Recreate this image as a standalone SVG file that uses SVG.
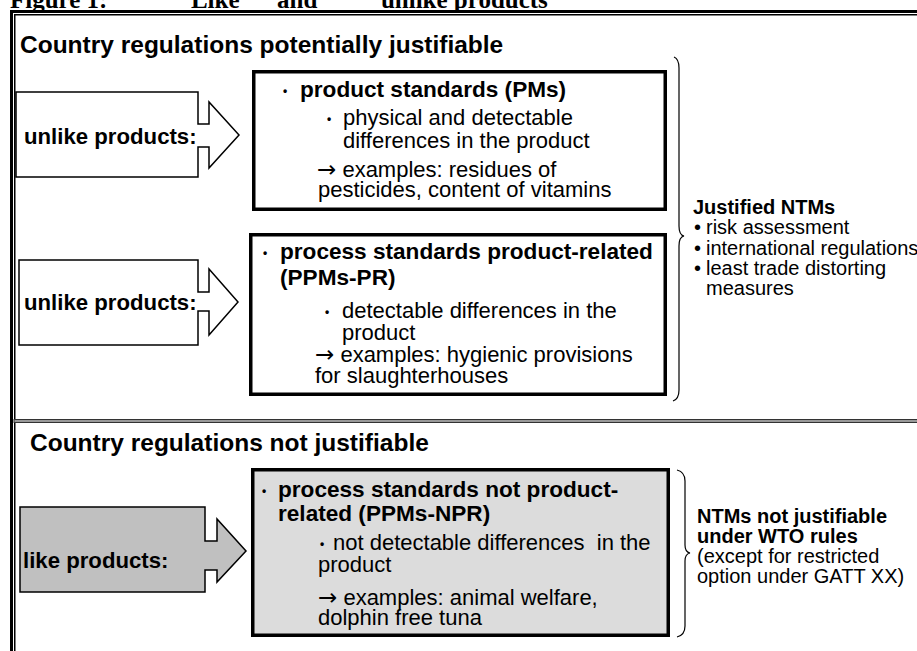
<svg xmlns="http://www.w3.org/2000/svg" width="917" height="651" viewBox="0 0 917 651">
<style>
text{font-family:"Liberation Sans",Arial,sans-serif;fill:#000}
.ti{font-family:"Liberation Serif","Times New Roman",serif;font-weight:bold;font-size:25px}
.h{font-weight:bold;font-size:24.5px}
.l{font-weight:bold;font-size:22.2px}
.b{font-weight:bold;font-size:22.6px}
.r{font-size:22px}
.sb{font-weight:bold;font-size:20px}
.sr{font-size:20px}
.bu{font-size:12px;font-weight:bold}
.ar{font-family:"DejaVu Sans",sans-serif;font-size:23px}
.box{fill:#fff;stroke:#000;stroke-width:3.5}
.arr{fill:#fff;stroke:#000;stroke-width:1.5;stroke-linejoin:miter}
.brace{fill:none;stroke:#000;stroke-width:1.2}
</style>
<rect width="917" height="651" fill="#fff"/>
<text class="ti" y="8"><tspan x="10">Figure 1:</tspan><tspan x="177">"Like"</tspan><tspan x="277">and</tspan><tspan x="367">"unlike products"</tspan></text>
<g id="frame">
<rect x="11.5" y="11.5" width="920" height="660" fill="none" stroke="#000" stroke-width="3"/>
<rect x="14.75" y="14.75" width="915" height="655" fill="none" stroke="#000" stroke-width="1.5"/>
<rect x="14" y="419.5" width="910" height="3" fill="#999" stroke="#333" stroke-width="1"/>
</g>
<text class="h" x="20" y="53">Country regulations potentially justifiable</text>
<text class="h" x="30" y="451">Country regulations not justifiable</text>
<g id="arrow1">
<path class="arr" d="M16,92 H198 V124 H209 V102 L239,135 L209,168 V147 H198 V177 H16 Z"/>
<text class="l" x="24" y="144">unlike products:</text>
</g>
<g id="arrow2">
<path class="arr" d="M19,260 H198 V292 H209 V269 L238,302 L209,335 V311 H198 V345 H19 Z"/>
<text class="l" x="24" y="310">unlike products:</text>
</g>
<g id="arrow3">
<path class="arr" style="fill:#c0c0c0" d="M20,507 H205 V541 H217 V519 L246,551 L217,582 V570 H205 V592 H20 Z"/>
<text class="l" x="23" y="568">like products:</text>
</g>
<g id="box1">
<rect class="box" x="253.75" y="71.75" width="411.5" height="137.5"/>
<text class="bu" x="283" y="95">•</text>
<text class="b" x="300" y="97">product standards (PMs)</text>
<text class="bu" x="327" y="123">•</text>
<text class="r" x="343" y="125">physical and detectable</text>
<text class="r" x="343" y="148">differences in the product</text>
<text class="r" x="317" y="177"><tspan class="ar">→</tspan> examples: residues of</text>
<text class="r" x="318" y="197">pesticides, content of vitamins</text>
</g>
<g id="box2">
<rect class="box" x="250.75" y="234.75" width="414.5" height="159.5"/>
<text class="bu" x="263" y="257">•</text>
<text class="b" x="280" y="259">process standards product-related</text>
<text class="b" x="280" y="285">(PPMs-PR)</text>
<text class="bu" x="325" y="316">•</text>
<text class="r" x="342" y="318">detectable differences in the</text>
<text class="r" x="342" y="340">product</text>
<text class="r" x="315" y="362"><tspan class="ar">→</tspan> examples: hygienic provisions</text>
<text class="r" x="315" y="383">for slaughterhouses</text>
</g>
<g id="box3">
<rect class="box" style="fill:#dcdcdc" x="252.75" y="469.75" width="415.5" height="165.5"/>
<text class="bu" x="262" y="495">•</text>
<text class="b" x="278" y="497">process standards not product-</text>
<text class="b" x="278" y="521">related (PPMs-NPR)</text>
<text class="bu" x="320" y="548">•</text>
<text class="r" x="333" y="550" xml:space="preserve">not detectable differences  in the</text>
<text class="r" x="318" y="572">product</text>
<text class="r" x="318" y="605"><tspan class="ar">→</tspan> examples: animal welfare,</text>
<text class="r" x="318" y="625">dolphin free tuna</text>
</g>
<g id="connectors">
<path class="brace" d="M674,57 Q679,59 679,68 V226 Q679,235 684,236 Q679,237 679,246 V390 Q679,399 673,401"/>
<path class="brace" d="M677,470 Q685,472 685,481 V545 Q685,552 690,553 Q685,554 685,561 V626 Q685,635 677,637"/>
</g>
<g id="justified">
<text class="sb" x="693" y="214">Justified NTMs</text>
<text class="sr" x="694" y="234">•</text>
<text class="sr" x="706" y="234">risk assessment</text>
<text class="sr" x="694" y="255">•</text>
<text class="sr" x="706" y="255">international regulations</text>
<text class="sr" x="694" y="275">•</text>
<text class="sr" x="706" y="275">least trade distorting</text>
<text class="sr" x="706" y="295">measures</text>
</g>
<g id="notjustified">
<text class="sb" x="697" y="523">NTMs not justifiable</text>
<text class="sb" x="697" y="543">under WTO rules</text>
<text class="sr" x="697" y="563">(except for restricted</text>
<text class="sr" x="697" y="583">option under GATT XX)</text>
</g>
</svg>
